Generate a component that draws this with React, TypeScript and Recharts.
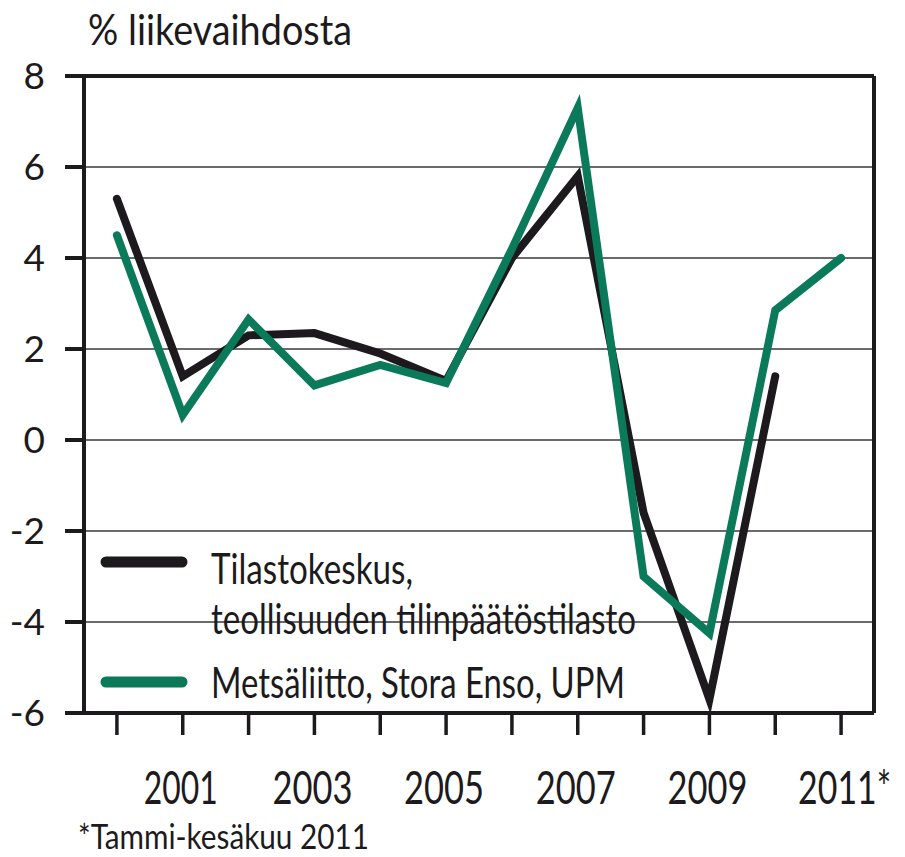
import React from "react"
import { LineChart, Line, XAxis, YAxis, CartesianGrid, ReferenceLine } from "recharts"

const years = [2000, 2001, 2002, 2003, 2004, 2005, 2006, 2007, 2008, 2009, 2010, 2011]
const tilastokeskus = [5.3, 1.4, 2.3, 2.35, 1.9, 1.3, 4.0, 5.8, -1.6, -5.7, 1.4, null]
const metsateollisuus = [4.5, 0.55, 2.65, 1.2, 1.65, 1.25, 4.2, 7.3, -3.0, -4.25, 2.85, 4.0]
const yTicks = [-6, -4, -2, 0, 2, 4, 6, 8]
const labeledYears = [2001, 2003, 2005, 2007, 2009, 2011]

const data = years.map((year, i) => ({
  year,
  tilasto: tilastokeskus[i],
  metsa: metsateollisuus[i],
}))

const FONT = "Lato, 'Open Sans', sans-serif"
const INK = "#1c1a1d"
const GREEN = "#0b7a5a"

// squeezed text, the original uses a narrow Gill Sans style face
const Txt = ({ x, y, w, size, anchor = "start", children }: any) => (
  <text
    x={x}
    y={y}
    fontSize={size}
    fontFamily={FONT}
    fill={INK}
    textAnchor={anchor}
    textLength={w}
    lengthAdjust="spacingAndGlyphs"
  >
    {children}
  </text>
)

const XTick = (props: any) => {
  const { x, y, payload } = props
  if (!labeledYears.includes(payload.value)) return null
  if (payload.value === 2011) {
    return (
      <Txt x={x + 50} y={y + 67} w={93} size={47} anchor="end">
        2011*
      </Txt>
    )
  }
  return (
    <Txt x={x - 2} y={y + 67} w={payload.value === 2001 ? 74 : 80} size={47} anchor="middle">
      {payload.value}
    </Txt>
  )
}

const YTick = (props: any) => {
  const { y, payload } = props
  return (
    <text x={45} y={y + 13} textAnchor="end" fontSize={37} fontFamily={FONT} fill={INK}>
      {payload.value}
    </text>
  )
}

export default function App() {
  return (
    <div style={{ position: "absolute", left: 0, top: 0, width: 905, height: 857, background: "#fff" }}>
      <LineChart width={905} height={857} data={data} margin={{ top: 76, right: 31, bottom: 0, left: 0 }}>
        <CartesianGrid horizontal vertical={false} stroke="#3a3a3a" strokeWidth={1.5} />
        <XAxis
          dataKey="year"
          type="number"
          domain={[1999.5, 2011.5]}
          ticks={years}
          interval={0}
          height={144}
          tickSize={22}
          tick={<XTick />}
          axisLine={{ stroke: INK, strokeWidth: 4 }}
          tickLine={{ stroke: INK, strokeWidth: 3.5 }}
        />
        <YAxis
          type="number"
          domain={[-6, 8]}
          ticks={yTicks}
          width={84}
          tickSize={19}
          tick={<YTick />}
          axisLine={{ stroke: INK, strokeWidth: 4 }}
          tickLine={{ stroke: INK, strokeWidth: 4 }}
        />
        <ReferenceLine y={8} stroke={INK} strokeWidth={4} />
        <ReferenceLine x={2011.5} stroke={INK} strokeWidth={4} />
        <Line
          dataKey="tilasto"
          stroke={INK}
          strokeWidth={8}
          strokeLinecap="round"
          dot={false}
          isAnimationActive={false}
          connectNulls={false}
        />
        <Line
          dataKey="metsa"
          stroke={GREEN}
          strokeWidth={8}
          strokeLinecap="round"
          dot={false}
          isAnimationActive={false}
        />
      </LineChart>
      <svg width={905} height={857} style={{ position: "absolute", left: 0, top: 0, pointerEvents: "none" }}>
        <Txt x={88} y={45} w={264} size={42}>% liikevaihdosta</Txt>
        <line x1={106} x2={182} y1={562} y2={562} stroke={INK} strokeWidth={11} strokeLinecap="round" />
        <Txt x={211} y={584} w={202} size={42}>Tilastokeskus,</Txt>
        <Txt x={211} y={634} w={425} size={42}>teollisuuden tilinpäätöstilasto</Txt>
        <line x1={106} x2={182} y1={682} y2={682} stroke={GREEN} strokeWidth={11} strokeLinecap="round" />
        <Txt x={211} y={698} w={414} size={42}>Metsäliitto, Stora Enso, UPM</Txt>
        <Txt x={78} y={849} w={291} size={34}>*Tammi-kesäkuu 2011</Txt>
      </svg>
    </div>
  )
}
